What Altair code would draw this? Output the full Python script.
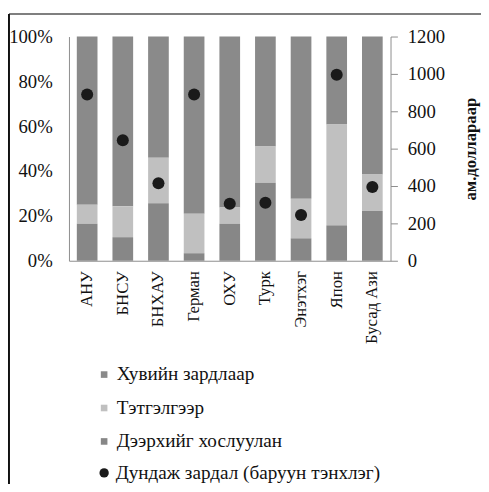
import altair as alt
import pandas as pd

countries = ["АНУ", "БНСУ", "БНХАУ", "Герман", "ОХУ", "Турк", "Энэтхэг", "Япон", "Бусад Ази"]
private = [75.0, 75.7, 54.1, 79.0, 76.2, 49.0, 72.4, 39.2, 61.5]
grant = [8.5, 13.8, 20.3, 17.6, 7.3, 16.2, 17.6, 45.0, 16.3]
combined = [16.5, 10.5, 25.6, 3.4, 16.5, 34.8, 10.0, 15.8, 22.2]
avg_cost = [890, 645, 415, 890, 305, 310, 245, 995, 395]

series_names = ["Хувийн зардлаар", "Тэтгэлгээр", "Дээрхийг хослуулан"]
series_colors = ["#8a8a8a", "#c0c0c0", "#878787"]
dot_label = "Дундаж зардал (баруун тэнхлэг)"
FONT = "Liberation Serif"

rows = []
for i, c in enumerate(countries):
    for name, vals, order in [(series_names[0], private, 2),
                              (series_names[1], grant, 1),
                              (series_names[2], combined, 0)]:
        rows.append({"country": c, "series": name, "value": vals[i], "ord": order})
bars_df = pd.DataFrame(rows)
dots_df = pd.DataFrame({"country": countries, "cost": avg_cost, "kind": [dot_label] * len(countries)})

x_enc = alt.X(
    "country:N", sort=countries, title=None,
    scale=alt.Scale(paddingInner=0.42, paddingOuter=0.22),
    axis=alt.Axis(labelAngle=-90, ticks=False, domainColor="#8c8c8c", labelPadding=10,
                  labelFont=FONT, labelFontSize=17, labelColor="#111"),
)

bars = alt.Chart(bars_df).mark_bar().encode(
    x=x_enc,
    y=alt.Y("value:Q", stack="normalize", title=None,
            scale=alt.Scale(domain=[0, 1]),
            axis=alt.Axis(values=[0, 0.2, 0.4, 0.6, 0.8, 1.0], format=".0%", ticks=False, grid=False,
                          domainColor="#8c8c8c", labelPadding=17, labelFont=FONT, labelFontSize=19,
                          labelColor="#111")),
    color=alt.Color("series:N", scale=alt.Scale(domain=series_names, range=series_colors),
                    legend=alt.Legend(title=None, orient="none", legendX=26, legendY=334,
                                      symbolType="square", symbolSize=45, symbolStrokeWidth=0,
                                      labelFont=FONT, labelFontSize=19.5, labelColor="#111",
                                      rowPadding=13, labelOffset=3, labelLimit=400)),
    order=alt.Order("ord:Q"),
)

dots = alt.Chart(dots_df).mark_point(filled=True, size=150, color="#1a1a1a", opacity=1).encode(
    x=x_enc,
    y=alt.Y("cost:Q", title="ам.доллараар",
            scale=alt.Scale(domain=[0, 1200]),
            axis=alt.Axis(orient="right", values=[0, 200, 400, 600, 800, 1000, 1200], format="d",
                          grid=False, tickSize=7, tickColor="#8c8c8c", domainColor="#8c8c8c",
                          labelPadding=10, labelFont=FONT, labelFontSize=19, labelColor="#111",
                          titleFont=FONT, titleFontSize=17, titleFontWeight="bold", titleColor="#111",
                          titleAngle=270, titlePadding=35)),
    shape=alt.Shape("kind:N", scale=alt.Scale(domain=[dot_label], range=["circle"]),
                    legend=alt.Legend(title=None, orient="none", legendX=26, legendY=434,
                                      symbolSize=90, symbolFillColor="#1a1a1a", symbolStrokeWidth=0,
                                      labelFont=FONT, labelFontSize=19.5, labelColor="#111",
                                      labelOffset=2, labelLimit=400)),
)

frame_src = alt.Data(values=[{"k": 1}])
top_line = alt.Chart(frame_src).mark_rule(color="#555555", strokeWidth=1.5).encode(
    x=alt.value(-61), x2=alt.value(425), y=alt.value(-23))
left_line = alt.Chart(frame_src).mark_rule(color="#111111", strokeWidth=2).encode(
    x=alt.value(-61), y=alt.value(-23), y2=alt.value(460))

chart = alt.layer(bars, dots, top_line, left_line).resolve_scale(
    y="independent", color="independent", shape="independent"
).properties(
    width=327, height=228,
    autosize=alt.AutoSizeParams(type="none"),
    padding={"left": 62, "top": 25, "right": 92, "bottom": 223},
).configure(font=FONT).configure_view(stroke=None)

chart.save("out.html", embed_options={"renderer": "svg", "actions": False})
